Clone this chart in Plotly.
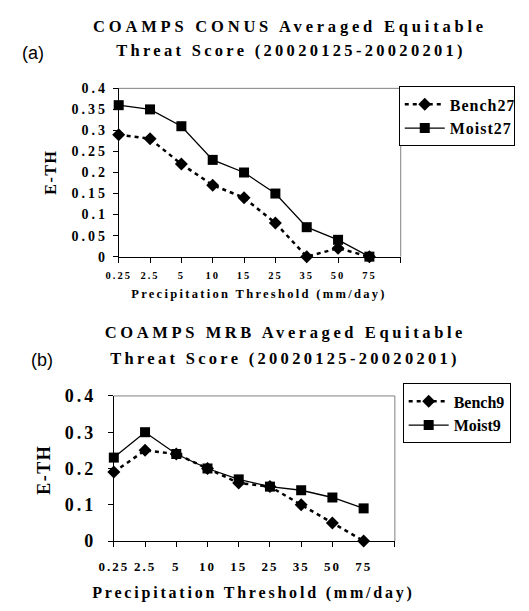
import json
import plotly.graph_objects as go

categories = ["0.25", "2.5", "5", "10", "15", "25", "35", "50", "75"]
bench27 = [0.29, 0.28, 0.22, 0.17, 0.14, 0.08, 0.0, 0.02, 0.0]
moist27 = [0.36, 0.35, 0.31, 0.23, 0.20, 0.15, 0.07, 0.04, 0.0]
bench9 = [0.19, 0.25, 0.24, 0.20, 0.16, 0.15, 0.10, 0.05, 0.0]
moist9 = [0.23, 0.30, 0.24, 0.20, 0.17, 0.15, 0.14, 0.12, 0.09]
yticks_a = [0, 0.05, 0.1, 0.15, 0.2, 0.25, 0.3, 0.35, 0.4]
yticklabels_a = ["0", "0.05", "0.1", "0.15", "0.2", "0.25", "0.3", "0.35", "0.4"]
yticks_b = [0, 0.1, 0.2, 0.3, 0.4]
yticklabels_b = ["0", "0.1", "0.2", "0.3", "0.4"]

W, H = 529, 611
SERIF = "Liberation Serif"
xpos = list(range(len(categories)))

def px(x):
    return x / W

def py(y):
    return 1 - y / H

fig = go.Figure()

def add_pair(bench, moist, bname, mname, xa, ya, leg):
    fig.add_trace(go.Scatter(x=xpos, y=bench, name=bname, mode="lines+markers",
                             line=dict(color="black", width=2.5, dash="4px,4px"),
                             marker=dict(symbol="diamond", size=10, color="black"),
                             xaxis=xa, yaxis=ya, legend=leg, cliponaxis=False))
    fig.add_trace(go.Scatter(x=xpos, y=moist, name=mname, mode="lines+markers",
                             line=dict(color="black", width=1.3),
                             marker=dict(symbol="square", size=10, color="black"),
                             xaxis=xa, yaxis=ya, legend=leg, cliponaxis=False))

add_pair(bench27, moist27, "Bench27", "Moist27", "x", "y", "legend")
add_pair(bench9, moist9, "Bench9", "Moist9", "x2", "y2", "legend2")

# plot-area pixel boxes
A = dict(x0=110, x1=398, y0=81, y1=255)
B = dict(x0=105, x1=392, y0=399, y1=549)

def xaxis(box, anchor, fsize, standoff):
    return dict(domain=[px(box["x0"]), px(box["x1"])], range=[0, 9], anchor=anchor,
                tickvals=list(range(10)), ticktext=categories + [""],
                ticks="outside", ticklen=5, tickcolor="black", showline=True,
                linecolor="black", linewidth=1, showgrid=False, zeroline=False,
                ticklabelstandoff=standoff,
                tickfont=dict(family=SERIF, size=fsize, color="black", weight="bold"),
                fixedrange=True)

def yaxis(box, anchor, tv, tt, fsize, standoff):
    return dict(domain=[py(box["y1"]), py(box["y0"])], range=[0, 0.4], anchor=anchor,
                tickvals=tv, ticktext=tt, ticks="outside", ticklen=5, tickcolor="black",
                showline=True, linecolor="black", linewidth=1, showgrid=False,
                zeroline=False, ticklabelstandoff=standoff,
                tickfont=dict(family=SERIF, size=fsize, color="black", weight="bold"),
                fixedrange=True)

shapes = []
for box in (A, B):
    shapes.append(dict(type="line", xref="paper", yref="paper",
                       x0=px(box["x0"]), x1=px(box["x1"]), y0=py(box["y0"]), y1=py(box["y0"]),
                       line=dict(color="#808080", width=1)))
    shapes.append(dict(type="line", xref="paper", yref="paper",
                       x0=px(box["x1"]), x1=px(box["x1"]), y0=py(box["y0"]), y1=py(box["y1"]),
                       line=dict(color="#808080", width=1)))

annotations = []
spacings = []

def ann(text, x, y, size, spacing, family=SERIF, bold=True, angle=0):
    annotations.append(dict(text=text, x=px(x), y=py(y), xref="paper", yref="paper",
                            showarrow=False, textangle=angle, xanchor="center", yanchor="middle",
                            font=dict(family=family, size=size, color="black",
                                      weight="bold" if bold else "normal")))
    spacings.append(spacing)

ann("COAMPS CONUS Averaged Equitable", 285, 17, 16.5, 3.8)
ann("Threat Score (20020125-20020201)", 286, 42, 16.5, 3.3)
ann("(a)", 22, 44, 18, 0, family="Liberation Sans", bold=False)
ann("E-TH", 40, 167, 16, 1.5, angle=-90)
ann("Precipitation Threshold (mm/day)", 253, 294, 12.5, 2.3)
ann("COAMPS MRB Averaged Equitable", 280, 333, 16.5, 3.6)
ann("Threat Score (20020125-20020201)", 280, 360, 16.5, 3.3)
ann("(b)", 32, 362, 18, 0, family="Liberation Sans", bold=False)
ann("E-TH", 34, 475, 18, 1.5, angle=-90)
ann("Precipitation Threshold (mm/day)", 248, 603, 16, 2.8)

legend_common = dict(bgcolor="white", bordercolor="black", borderwidth=1,
                     font=dict(family=SERIF, size=16, color="black", weight="bold"),
                     xanchor="left", yanchor="top", tracegroupgap=0, itemwidth=40)

fig.update_layout(
    width=W, height=H, margin=dict(l=0, r=0, t=0, b=0),
    paper_bgcolor="white", plot_bgcolor="white",
    xaxis=xaxis(A, "y", 10.5, 4), yaxis=yaxis(A, "x", yticks_a, yticklabels_a, 14, 2),
    xaxis2=xaxis(B, "y2", 13, 8), yaxis2=yaxis(B, "x2", yticks_b, yticklabels_b, 18, 8),
    legend=dict(x=px(396), y=py(79), **legend_common),
    legend2=dict(x=px(400), y=py(386), **legend_common),
    shapes=shapes, annotations=annotations, showlegend=True,
)

# letter spacing (the reference text is widely tracked)
post = """
var gd = document.getElementById('{plot_id}');
var annSp = %s;
function sp(){
  gd.querySelectorAll('g.annotation').forEach(function(g){
    var i = parseInt(g.getAttribute('data-index'));
    var t = g.querySelector('text.annotation-text');
    if (t && !isNaN(i)) { t.style.letterSpacing = annSp[i] + 'px'; }
  });
  var tk = {'xtick': 2, 'ytick': 3, 'x2tick': 2, 'y2tick': 3};
  Object.keys(tk).forEach(function(c){
    gd.querySelectorAll('g.' + c + ' text').forEach(function(t){ t.style.letterSpacing = tk[c] + 'px'; });
  });
  gd.querySelectorAll('text.legendtext').forEach(function(t){ t.style.letterSpacing = '1px'; });
}
sp();
gd.on('plotly_afterplot', sp);
""" % json.dumps(spacings)

fig.write_html("out.html", post_script=post)
